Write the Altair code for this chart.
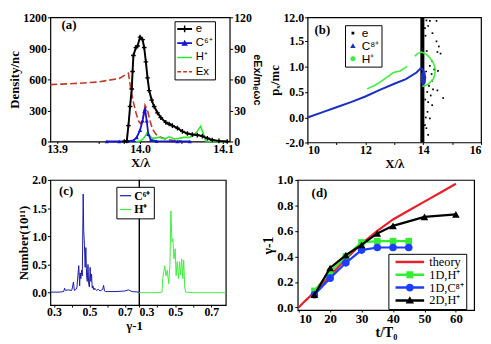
import math
import altair as alt
import pandas as pd

SERIF = "Liberation Serif"
SANS = "Liberation Sans"

# ---------------- panel (a) data ----------------
a_e_x = [13.981, 13.984, 13.986, 13.988, 13.990, 13.991, 13.992, 13.995, 13.997, 14.000, 14.003,
         14.005, 14.007, 14.009, 14.011, 14.014, 14.017, 14.021, 14.025, 14.031, 14.035, 14.039,
         14.045, 14.051, 14.057, 14.063, 14.069, 14.075, 14.081, 14.087, 14.095, 14.105]
a_e_y = [0, 6, 154, 338, 508, 677, 831, 908, 923, 1009, 985, 908, 769, 615, 492, 400, 338, 277,
         231, 185, 169, 154, 129, 98, 77, 68, 62, 52, 31, 15, 6, 0]
a_c_x = [13.960, 13.975, 13.985, 13.992, 13.996, 14.000, 14.003, 14.005, 14.006, 14.008, 14.010,
         14.013, 14.020, 14.045, 14.060]
a_c_y = [0, 0, 2, 10, 40, 110, 200, 290, 315, 200, 70, 15, 3, 0, 0]
a_h_x = [13.995, 14.000, 14.003, 14.006, 14.009, 14.011, 14.015, 14.019, 14.023, 14.027, 14.031,
         14.035, 14.041, 14.047, 14.053, 14.059, 14.065, 14.069, 14.073, 14.076, 14.079, 14.087, 14.105]
a_h_y = [0, 5, 20, 50, 90, 60, 30, 35, 40, 30, 30, 45, 25, 30, 40, 40, 60, 100, 148, 80, 5, 0, 0]
a_ex_x = [13.892, 13.92, 13.95, 13.975, 13.986, 13.989, 13.992, 13.995, 13.998, 14.001, 14.004,
          14.006, 14.009, 14.012, 14.015, 14.019, 14.025, 14.032, 14.040, 14.050]
a_ex_y = [55, 56, 57.5, 61, 66, 50, 38, 28, 20, 17, 24, 35, 30, 20, 12, 7, 4, 2, 1, 0.5]
a_leg_names = ["e", "C⁶⁺", "H⁺", "Ex"]

# ---------------- panel (b) data ----------------
b_c_x = [10.0, 10.5, 11.0, 11.5, 12.0, 12.5, 13.0, 13.4, 13.77, 13.91, 13.97, 14.04, 14.07, 14.05,
         13.99, 13.95, 13.96, 14.01, 14.05, 14.02, 13.97, 13.99]
b_c_y = [0.0, 0.10, 0.20, 0.30, 0.41, 0.54, 0.66, 0.75, 0.88, 0.96, 0.95, 0.88, 0.78, 0.68, 0.65,
         0.72, 0.85, 0.89, 0.78, 0.70, 0.76, 0.82]
b_h_x = [12.06, 12.3, 12.51, 12.75, 12.97, 13.2, 13.37, 13.45,
         13.71, 13.8, 13.94, 14.1, 14.23, 14.35, 14.42, 14.4, 14.35, 14.17, 14.0, 13.97]
b_h_y = [0.56, 0.62, 0.69, 0.79, 0.88, 0.91, 0.97, 1.0,
         1.2, 1.25, 1.28, 1.24, 1.17, 1.07, 0.95, 0.85, 0.75, 0.65, 0.61, 0.63]
b_h_seg = [1] * 8 + [2] * 12
b_e_x = [14.11, 14.23, 14.46, 14.17, 14.32, 14.46, 14.54, 14.49, 14.60, 14.31, 14.23, 14.38, 14.51,
         14.29, 14.31, 14.20, 14.34, 14.49, 14.69, 14.26, 14.17, 14.31, 14.15, 14.23, 14.11, 14.17,
         14.08, 14.12, 14.10, 14.14, 14.09, 14.06, 14.07, 14.06]
b_e_y = [1.90, 1.89, 1.89, 1.79, 1.65, 1.49, 1.39, 1.28, 1.25, 1.10, 1.01, 0.94, 0.91, 0.85, 0.72,
         0.62, 0.55, 0.53, 0.38, 0.43, 0.30, 0.24, 0.11, -0.02, -0.21, -0.34, 1.6, 1.3, 0.9, 0.5, 0.0,
         1.75, 0.35, -0.15]
b_band_x = [13.9, 14.04]
b_band_y = [-0.49, 1.96]
b_leg_names = ["e", "C⁸⁺", "H⁺"]

# ---------------- panel (c) data ----------------
c_c_g = [0.28, 0.33, 0.355, 0.36, 0.365, 0.38, 0.40, 0.405, 0.41, 0.415, 0.425, 0.43, 0.435, 0.44,
         0.445, 0.448, 0.452, 0.456, 0.46, 0.465, 0.468, 0.472, 0.476, 0.48, 0.484, 0.488, 0.492,
         0.496, 0.50, 0.504, 0.508, 0.512, 0.516, 0.52, 0.525, 0.53, 0.54, 0.55, 0.56, 0.575, 0.58,
         0.585, 0.59, 0.61, 0.65, 0.70, 0.72, 0.74, 0.78]
c_c_n = [0.01, 0.01, 0.02, 0.08, 0.04, 0.05, 0.04, 0.10, 0.19, 0.04, 0.06, 0.10, 0.30, 0.48, 0.12,
         0.35, 0.25, 0.40, 0.30, 1.75, 1.10, 0.85, 0.45, 0.80, 0.30, 0.20, 0.50, 0.15, 0.10, 0.45,
         0.20, 0.33, 0.08, 0.12, 0.05, 0.08, 0.04, 0.06, 0.03, 0.06, 0.13, 0.03, 0.02, 0.02, 0.02,
         0.03, 0.05, 0.02, 0.01]
c_h_g = [0.30, 0.35, 0.40, 0.427, 0.431, 0.442, 0.449, 0.456, 0.464, 0.471, 0.476, 0.482, 0.487,
         0.493, 0.50, 0.505, 0.511, 0.518, 0.524, 0.529, 0.536, 0.542, 0.547, 0.553, 0.558, 0.60,
         0.65, 0.70, 0.78]
c_h_n = [0.0, 0.0, 0.0, 0.01, 0.25, 0.48, 0.30, 0.40, 0.16, 0.50, 1.45, 0.90, 0.96, 0.60, 0.78,
         0.30, 0.55, 0.25, 0.55, 0.32, 0.60, 0.25, 0.58, 0.08, 0.01, 0.0, 0.0, 0.0, 0.0]
c_leg_names = ["C⁶⁺", "H⁺"]

# ---------------- panel (d) data ----------------
d_th_t = [10, 12, 15, 20, 25, 30, 35, 40, 45, 50, 55, 60]
d_th_g = [0.0, 0.05, 0.12, 0.25, 0.38, 0.50, 0.60, 0.69, 0.76, 0.83, 0.90, 0.97]
d_h1_t = [15, 20, 25, 30, 35, 40, 45]
d_h1_g = [0.13, 0.28, 0.40, 0.51, 0.52, 0.52, 0.52]
d_c1_t = [15, 20, 25, 30, 35, 40, 45]
d_c1_g = [0.10, 0.23, 0.35, 0.45, 0.47, 0.47, 0.47]
d_h2_t = [15, 20, 25, 30, 35, 40, 50, 60]
d_h2_g = [0.10, 0.31, 0.41, 0.49, 0.58, 0.64, 0.71, 0.73]
d_leg_names = ["theory", "1D,H⁺", "1D,C⁸⁺", "2D,H⁺"]

# ---------------- styling ----------------
BLACK = "#000000"
BLUE_A = "#1414d2"
GREEN_A = "#2ee82e"
RED_A = "#c0392b"
BLUE_B = "#1c2fc4"
GREEN_B = "#3ef03e"
BLUE_C = "#1a1aa8"
GREEN_C = "#40ee40"
RED_D = "#e8202a"
GREEN_D = "#33ee33"
BLUE_D = "#1f3dff"


def poly_circle(cx, cy, r, n=16):
    pts = [(cx + r * math.cos(2 * math.pi * k / n), cy + r * math.sin(2 * math.pi * k / n)) for k in range(n)]
    return "M" + "L".join(f"{x:.3f},{y:.3f}" for x, y in pts) + "Z"


def legend_layer(names, colors, paths, lx, ly, sym_size, font, fsize, fweight, row_pad, pad, label_offset):
    leg = alt.Legend(title=None, orient="none", legendX=lx, legendY=ly, fillColor="white",
                     strokeColor="black", padding=pad, rowPadding=row_pad, symbolSize=sym_size,
                     symbolOpacity=1, symbolStrokeWidth=0, labelFont=font, labelFontSize=fsize,
                     labelFontWeight=fweight, labelColor="black", labelOffset=label_offset,
                     cornerRadius=0, labelLimit=300)
    df = pd.DataFrame({"series": names})
    return alt.Chart(df).mark_point(filled=True, opacity=0).encode(
        x=alt.value(20), y=alt.value(20),
        color=alt.Color("series:N", scale=alt.Scale(domain=names, range=colors), legend=leg),
        shape=alt.Shape("series:N", scale=alt.Scale(domain=names, range=paths), legend=leg),
    )


# ================= panel (a) =================
df_ae = pd.DataFrame({"x": a_e_x, "y": a_e_y})
df_ac = pd.DataFrame({"x": a_c_x, "y": a_c_y})
df_ah = pd.DataFrame({"x": a_h_x, "y": a_h_y})
df_aex = pd.DataFrame({"x": a_ex_x, "y": a_ex_y})

ax_a = alt.X("x:Q", scale=alt.Scale(domain=[13.892, 14.108], nice=False, zero=False),
             axis=alt.Axis(title="X/λ", values=[13.9, 13.95, 14.0, 14.05, 14.1], titlePadding=2,
                           labelExpr="abs(datum.value*10 - round(datum.value*10)) > 0.01 ? '' : format(datum.value, '.1f')"))
ay_a = alt.Y("y:Q", scale=alt.Scale(domain=[0, 1200], nice=False),
             axis=alt.Axis(title="Density/nc", orient="left", values=[0, 300, 600, 900, 1200], format="d"))
ay_ex = alt.Y("y:Q", scale=alt.Scale(domain=[0, 120], nice=False),
              axis=alt.Axis(title="eEx/mₑωc", orient="right", values=[0, 30, 60, 90, 120], format="d",
                            titleFont=SANS, titleFontSize=11, titlePadding=0))

PLUS = "M-1,0H1M0,-1V1"
a_paths = [
    "M-1,-0.2H2V0.2H-1ZM0.35,-0.7H0.65V0.7H0.35Z",
    "M-1,-0.18H2V0.18H-1ZM0.5,-0.7L1.15,0.5H-0.15Z",
    "M-1,-0.15H2V0.15H-1Z",
    "M-1,-0.15H-0.2V0.15H-1ZM0.2,-0.15H1V0.15H0.2ZM1.4,-0.15H2V0.15H1.4Z",
]

ex_layer = alt.Chart(df_aex).mark_line(color=RED_A, strokeWidth=1.6, strokeDash=[7, 3]).encode(x=ax_a, y=ay_ex)
dens_layers = alt.layer(
    alt.Chart(df_ah).mark_line(color=GREEN_A, strokeWidth=1.6).encode(x=ax_a, y=ay_a),
    alt.Chart(df_ac).mark_line(color=BLUE_A, strokeWidth=1.8).encode(x=ax_a, y=ay_a),
    alt.Chart(df_ac).mark_point(shape="triangle-up", filled=True, color=BLUE_A, size=18, opacity=1).encode(x=ax_a, y=ay_a),
    alt.Chart(df_ae).mark_line(color=BLACK, strokeWidth=2).encode(x=ax_a, y=ay_a),
    alt.Chart(df_ae).mark_point(shape=PLUS, filled=False, color=BLACK, size=22, strokeWidth=1.4, opacity=1).encode(x=ax_a, y=ay_a),
    alt.Chart(pd.DataFrame({"x": [13.9145], "y": [1124], "t": ["(a)"]})).mark_text(
        font=SERIF, fontSize=13, fontWeight="bold", color="black").encode(x=ax_a, y=ay_a, text="t:N"),
    legend_layer(a_leg_names, [BLACK, BLUE_A, GREEN_A, RED_A], a_paths, 126, 4, 100, SANS, 11.5, "normal", 1.5, 2, 8),
)
chart_a = alt.layer(ex_layer, dens_layers).resolve_scale(y="independent").properties(width=182, height=126)

# ================= panel (b) =================
df_bband = pd.DataFrame({"x0": [b_band_x[0]], "x1": [b_band_x[1]], "y0": [b_band_y[0]], "y1": [b_band_y[1]]})
df_be = pd.DataFrame({"x": b_e_x, "y": b_e_y})
df_bc = pd.DataFrame({"x": b_c_x, "y": b_c_y, "i": list(range(len(b_c_x)))})
df_bh = pd.DataFrame({"x": b_h_x, "y": b_h_y, "seg": b_h_seg, "i": list(range(len(b_h_x)))})

bx_scale = alt.Scale(domain=[10, 16], nice=False, zero=False)
by_scale = alt.Scale(domain=[-0.49, 1.96], nice=False, zero=False)
bx_axis = alt.Axis(title="X/λ", values=[10, 11, 12, 13, 14, 15, 16], titlePadding=2,
                   labelExpr="datum.value % 2 == 0 ? format(datum.value, 'd') : ''")
by_axis = alt.Axis(title="pₓ/mc", values=[-0.49, 0, 0.5, 1.0, 1.5, 1.96],
                   labelExpr="datum.value < -0.4 ? '-2.0' : (datum.value > 1.9 ? '12.0' : format(datum.value, '.1f'))")
bx = alt.X("x:Q", scale=bx_scale, axis=bx_axis)
by = alt.Y("y:Q", scale=by_scale, axis=by_axis)

b_paths = [
    "M-0.35,-0.35H0.35V0.35H-0.35Z",
    "M0,-0.7L0.7,0.55H-0.7Z",
    poly_circle(0, 0, 0.65),
]
chart_b = alt.layer(
    alt.Chart(df_bband).mark_rect(color=BLACK).encode(
        x=alt.X("x0:Q", scale=bx_scale, axis=bx_axis), x2="x1:Q",
        y=alt.Y("y0:Q", scale=by_scale, axis=by_axis), y2="y1:Q"),
    alt.Chart(df_be).mark_square(color=BLACK, size=3, opacity=1).encode(x=bx, y=by),
    alt.Chart(df_bh).mark_line(color=GREEN_B, strokeWidth=1.6).encode(x=bx, y=by, detail="seg:N", order="i:Q"),
    alt.Chart(df_bc).mark_line(color=BLUE_B, strokeWidth=2).encode(x=bx, y=by, order="i:Q"),
    alt.Chart(pd.DataFrame({"x": [10.51], "y": [1.72], "t": ["(b)"]})).mark_text(
        font=SERIF, fontSize=13, fontWeight="bold", color="black").encode(x=bx, y=by, text="t:N"),
    legend_layer(b_leg_names, [BLACK, BLUE_B, GREEN_B], b_paths, 38, 8, 64, SANS, 12, "normal", 1, 2, 3),
).properties(width=176, height=127)

# ================= panel (c) =================
df_cc = pd.DataFrame({"g": c_c_g, "n": c_c_n})
df_ch = pd.DataFrame({"g": c_h_g, "n": c_h_n})
c_y_scale = alt.Scale(domain=[-0.22, 2.0], nice=False, zero=False)
c_lab = "round(datum.value*10) % 2 == 1 ? format(datum.value, '.1f') : ''"
cLx = alt.X("g:Q", scale=alt.Scale(domain=[0.28, 0.78], nice=False, zero=False),
            axis=alt.Axis(title="γ-1", titleX=85, titlePadding=2, values=[0.3, 0.4, 0.5, 0.6, 0.7], labelExpr=c_lab))
cLy = alt.Y("n:Q", scale=c_y_scale,
            axis=alt.Axis(title="Number(10¹¹)", values=[0, 0.5, 1.0, 1.5, 2.0], format=".1f"))
cRx = alt.X("g:Q", scale=alt.Scale(domain=[0.3, 0.78], nice=False, zero=False),
            axis=alt.Axis(title=None, values=[0.3, 0.4, 0.5, 0.6, 0.7], labelExpr=c_lab, labelFlush=True))
cRy = alt.Y("n:Q", scale=c_y_scale, axis=None)

chart_cL = alt.layer(
    alt.Chart(df_cc).mark_line(color=BLUE_C, strokeWidth=1).encode(x=cLx, y=cLy),
    alt.Chart(pd.DataFrame({"g": [0.369], "n": [1.80], "t": ["(c)"]})).mark_text(
        font=SERIF, fontSize=13, fontWeight="bold", color="black").encode(x=cLx, y=cLy, text="t:N"),
).properties(width=90, height=127)

c_paths = ["M-1,-0.11H1.1V0.11H-1Z", "M-1,-0.11H1.1V0.11H-1Z"]
chart_cR = alt.layer(
    alt.Chart(df_ch).mark_line(color=GREEN_C, strokeWidth=1).encode(x=cRx, y=cRy),
    legend_layer(c_leg_names, [BLUE_C, GREEN_C], c_paths, -23, 7, 121, SERIF, 12, "bold", 2, 3, 3),
).properties(width=88, height=127)

# ================= panel (d) =================
df_dth = pd.DataFrame({"t": d_th_t, "g": d_th_g})
df_dh1 = pd.DataFrame({"t": d_h1_t, "g": d_h1_g})
df_dc1 = pd.DataFrame({"t": d_c1_t, "g": d_c1_g})
df_dh2 = pd.DataFrame({"t": d_h2_t, "g": d_h2_g})
dx = alt.X("t:Q", scale=alt.Scale(domain=[9.7, 65.8], nice=False, zero=False),
           axis=alt.Axis(title="t/T₀", values=[10, 20, 30, 40, 50, 60], labelPadding=1,
                         labelFontSize=13, titleFontSize=14, titlePadding=0))
dy = alt.Y("g:Q", scale=alt.Scale(domain=[-0.02, 1.0], nice=False, zero=False),
           axis=alt.Axis(title="γ-1", values=[0, 0.2, 0.4, 0.6, 0.8, 1.0], format=".1f", labelPadding=2,
                         labelFontSize=13, titleFontSize=14))

D_LINE = "M-0.2,-0.25H5.6V0.25H-0.2Z"
d_paths = [
    D_LINE,
    D_LINE + "M2.0,-0.7H3.4V0.7H2.0Z",
    D_LINE + poly_circle(2.7, 0, 0.8),
    D_LINE + "M2.7,-0.85L3.55,0.65H1.85Z",
]
chart_d = alt.layer(
    alt.Chart(df_dth).mark_line(color=RED_D, strokeWidth=2.2).encode(x=dx, y=dy),
    alt.Chart(df_dh1).mark_line(color=GREEN_D, strokeWidth=2.2).encode(x=dx, y=dy),
    alt.Chart(df_dh1).mark_square(color=GREEN_D, size=45, opacity=1).encode(x=dx, y=dy),
    alt.Chart(df_dc1).mark_line(color=BLUE_D, strokeWidth=2.2).encode(x=dx, y=dy),
    alt.Chart(df_dc1).mark_circle(color=BLUE_D, size=60, opacity=1).encode(x=dx, y=dy),
    alt.Chart(df_dh2).mark_line(color=BLACK, strokeWidth=2.2).encode(x=dx, y=dy),
    alt.Chart(df_dh2).mark_point(shape="triangle-up", filled=True, color=BLACK, size=60, opacity=1).encode(x=dx, y=dy),
    alt.Chart(pd.DataFrame({"t": [16.6], "g": [0.90], "x": ["(d)"]})).mark_text(
        font=SERIF, fontSize=13, fontWeight="bold", color="black").encode(x=dx, y=dy, text="x:N"),
    legend_layer(d_leg_names, [RED_D, GREEN_D, BLUE_D, BLACK], d_paths, 92, 75, 100, SERIF, 12.5, "normal", 0, 2, 27),
).properties(width=179, height=132)

# ================= layout =================
RES = dict(x="independent", y="independent", color="independent", shape="independent")
LRES = dict(color="independent", shape="independent")

row1 = alt.hconcat(chart_a, chart_b, spacing=5).resolve_scale(**RES).resolve_legend(**LRES)
c_pair = alt.hconcat(chart_cL, chart_cR, spacing=0, bounds="flush").resolve_scale(**RES).resolve_legend(**LRES)
row2 = alt.hconcat(c_pair, chart_d, spacing=33).resolve_scale(**RES).resolve_legend(**LRES)
full = alt.vconcat(row1, row2, spacing=2).resolve_scale(**RES).resolve_legend(**LRES)

full = full.properties(
    padding={"left": 0, "top": 0, "right": 0, "bottom": 0},
    background="white",
).configure_view(
    stroke="black", strokeWidth=1.2
).configure_axis(
    domain=False, grid=False, ticks=True, tickColor="black", tickSize=3, tickWidth=1,
    labelFont=SERIF, labelFontSize=12, labelFontWeight="bold", labelColor="black", labelPadding=1,
    titleFont=SERIF, titleFontSize=13, titleFontWeight="bold", titleColor="black", titlePadding=1,
).configure_axisX(
    tickSize=2, labelPadding=0
)

full.save("out.html", embed_options={"renderer": "svg", "actions": False})
